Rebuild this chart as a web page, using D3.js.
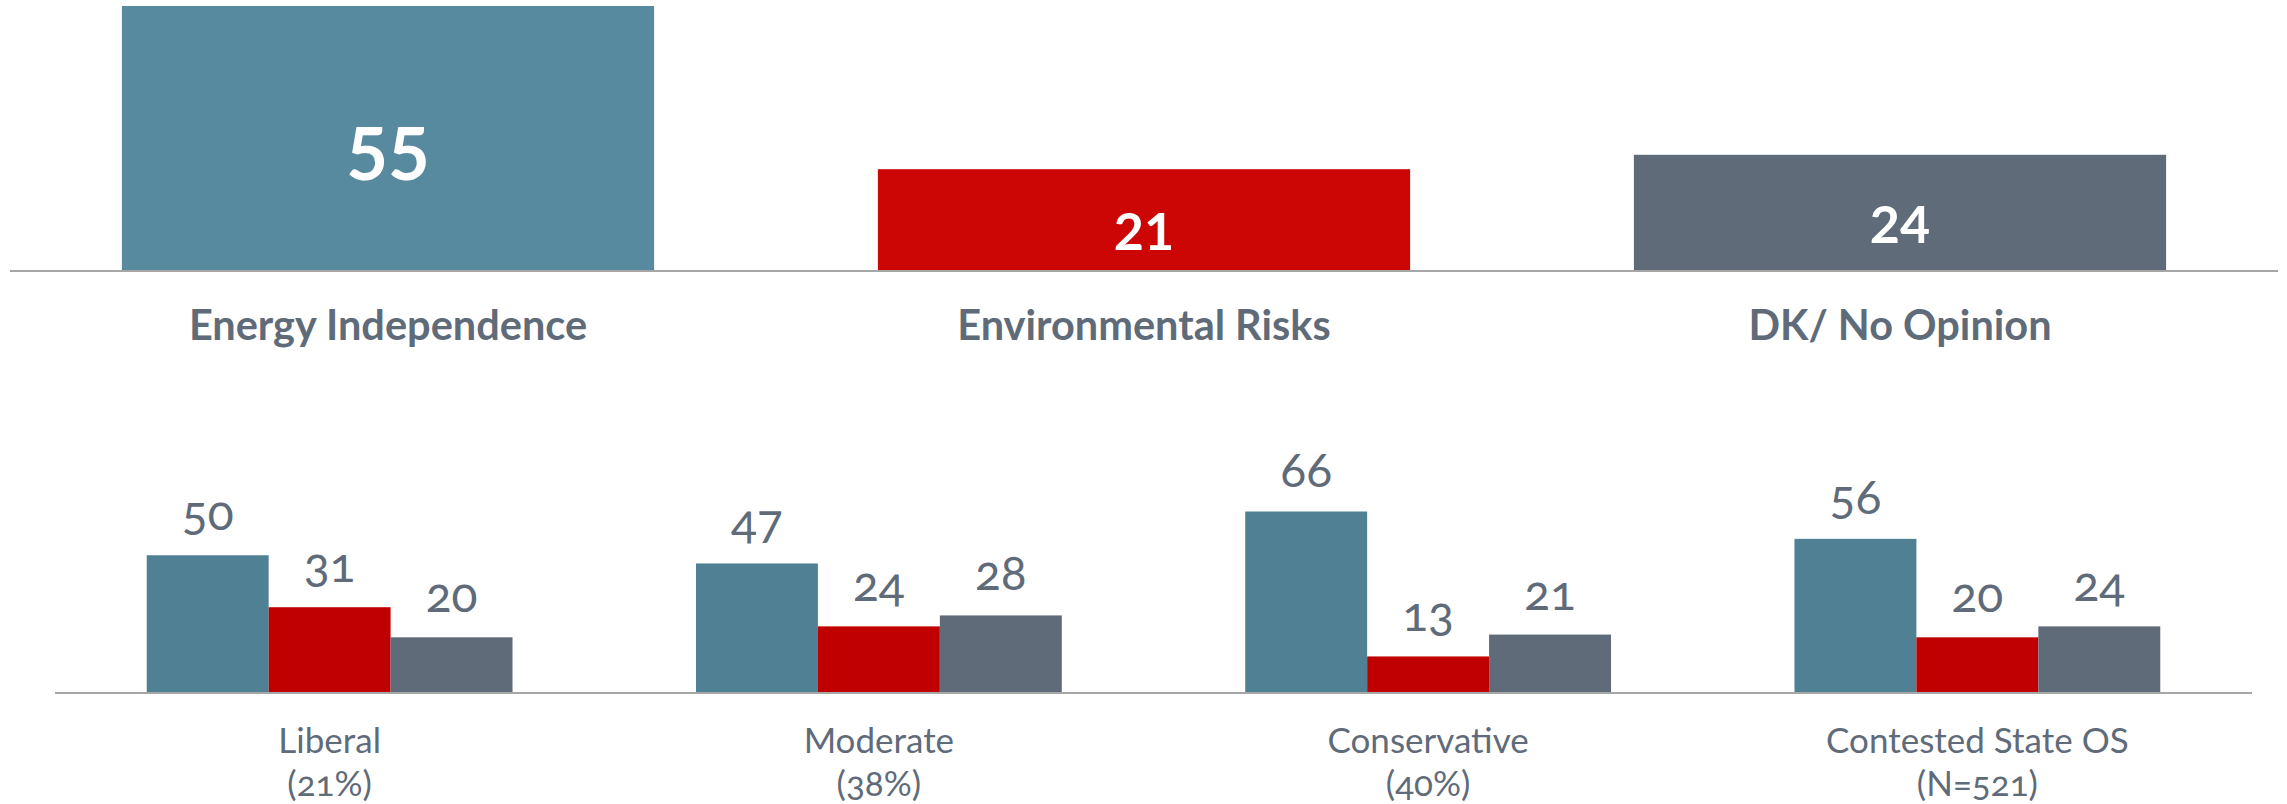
<!DOCTYPE html>
<html>
<head>
<meta charset="utf-8">
<script src="https://cdn.jsdelivr.net/npm/d3@7"></script>
<style>
  html, body { margin: 0; padding: 0; background: #ffffff; }
  svg { display: block; }
</style>
</head>
<body>
<svg id="chart" width="2287" height="804"></svg>
<script>
// ---- data ----
const topCategories = ["Energy Independence", "Environmental Risks", "DK/ No Opinion"];
const topValues = [55, 21, 24];

const groupLabels = ["Liberal", "Moderate", "Conservative", "Contested State OS"];
const groupSubLabels = ["(21%)", "(38%)", "(40%)", "(N=521)"];
const seriesNames = ["Energy Independence", "Environmental Risks", "DK/ No Opinion"];
const energyValues = [50, 47, 66, 56];
const environmentValues = [31, 24, 13, 20];
const dkValues = [20, 28, 21, 24];

// ---- styles ----
const topColors = ["#588a9f", "#cc0605", "#5f6b79"];
const bottomColors = ["#508093", "#c00000", "#5f6b79"];
const textColor = "#5f6b79";
const axisColor = "#a6a6a6";

const svg = d3.select("#chart");

// ================= TOP CHART =================
const xTop = d3.scaleBand().domain(topCategories).range([10, 2278])
  .paddingInner(0.296).paddingOuter(0.148);
const yTop = d3.scaleLinear().domain([0, 55]).range([270, 6]);

const topG = svg.append("g");
topG.selectAll("rect").data(topCategories).join("rect")
  .attr("x", d => xTop(d))
  .attr("y", (d, i) => yTop(topValues[i]))
  .attr("width", xTop.bandwidth())
  .attr("height", (d, i) => yTop(0) - yTop(topValues[i]))
  .attr("fill", (d, i) => topColors[i]);

topG.append("line")
  .attr("x1", xTop.range()[0]).attr("x2", xTop.range()[1])
  .attr("y1", yTop(0) + 1).attr("y2", yTop(0) + 1)
  .attr("stroke", axisColor).attr("stroke-width", 2);

topG.selectAll("text.val").data(topCategories).join("text")
  .attr("class", "val")
  .attr("x", d => xTop(d) + xTop.bandwidth() / 2)
  .attr("y", (d, i) => {
    const fs = i === 0 ? 72 : 52;
    return (yTop(topValues[i]) + yTop(0)) / 2 + 0.58 * fs;
  })
  .attr("text-anchor", "middle")
  .attr("font-family", "Lato, 'Open Sans', sans-serif")
  .attr("font-weight", 700)
  .attr("font-size", (d, i) => i === 0 ? 72 : 52)
  .attr("fill", "#ffffff")
  .text((d, i) => topValues[i]);

topG.selectAll("text.cat").data(topCategories).join("text")
  .attr("class", "cat")
  .attr("x", d => xTop(d) + xTop.bandwidth() / 2)
  .attr("y", 340)
  .attr("text-anchor", "middle")
  .attr("font-family", "Lato, 'Open Sans', sans-serif")
  .attr("font-weight", 700)
  .attr("font-size", 41.5)
  .attr("fill", textColor)
  .text(d => d);

// ================= BOTTOM CHART =================
const seriesValues = [energyValues, environmentValues, dkValues];
const x0 = d3.scaleBand().domain(groupLabels).range([55, 2252])
  .paddingInner(0.334).paddingOuter(0.167);
const x1 = d3.scaleBand().domain(seriesNames).range([0, x0.bandwidth()]).padding(0);
const yBot = d3.scaleLinear().domain([0, 66]).range([692, 511.5]);

const botG = svg.append("g");
const groups = botG.selectAll("g.grp").data(groupLabels).join("g")
  .attr("class", "grp")
  .attr("transform", d => `translate(${x0(d)},0)`);

groups.each(function(g, gi) {
  const sel = d3.select(this);
  const data = seriesNames.map((s, si) => ({ s, si, v: seriesValues[si][gi] }));
  sel.selectAll("rect").data(data).join("rect")
    .attr("x", d => x1(d.s))
    .attr("y", d => yBot(d.v))
    .attr("width", x1.bandwidth())
    .attr("height", d => yBot(0) - yBot(d.v))
    .attr("fill", d => bottomColors[d.si]);
  sel.selectAll("text").data(data).join("text")
    .attr("x", d => x1(d.s) + x1.bandwidth() / 2)
    .attr("y", d => yBot(d.v) - 25)
    .attr("text-anchor", "middle")
    .attr("font-family", "Lato, 'Open Sans', sans-serif")
    .attr("font-size", 48)
    .style("font-variant-numeric", "oldstyle-nums")
    .style("font-feature-settings", "'onum' 1")
    .attr("fill", textColor)
    .text(d => d.v);
});

botG.append("line")
  .attr("x1", x0.range()[0]).attr("x2", x0.range()[1])
  .attr("y1", yBot(0) + 1).attr("y2", yBot(0) + 1)
  .attr("stroke", axisColor).attr("stroke-width", 2);

const catText = botG.selectAll("text.cat").data(groupLabels).join("text")
  .attr("class", "cat")
  .attr("text-anchor", "middle")
  .attr("font-family", "Lato, 'Open Sans', sans-serif")
  .attr("font-size", 35)
  .style("font-variant-numeric", "oldstyle-nums")
  .style("font-feature-settings", "'onum' 1")
  .attr("fill", textColor);
catText.append("tspan")
  .attr("x", d => x0(d) + x0.bandwidth() / 2)
  .attr("y", 753)
  .text(d => d);
catText.append("tspan")
  .attr("x", d => x0(d) + x0.bandwidth() / 2)
  .attr("y", 796)
  .text((d, i) => groupSubLabels[i]);
</script>
</body>
</html>
